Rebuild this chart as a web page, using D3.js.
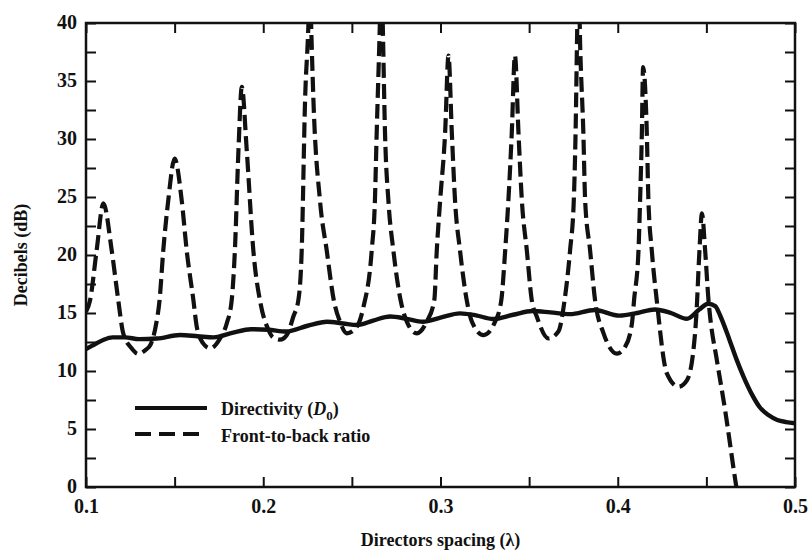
<!DOCTYPE html>
<html>
<head>
<meta charset="utf-8">
<script src="https://cdn.jsdelivr.net/npm/d3@7"></script>
<style>
  body { margin: 0; background: #fff; }
  svg { display: block; }
  text { font-family: "Liberation Serif", "DejaVu Serif", serif; fill: #111; }
</style>
</head>
<body>
<svg id="chart" width="810" height="552"></svg>
<script>
// values (x in wavelengths, y in dB)
const xTicks = [0.1, 0.2, 0.3, 0.4, 0.5]
const xMinor = [0.15, 0.25, 0.35, 0.45]
const yTicks = [0, 5, 10, 15, 20, 25, 30, 35, 40]
const yMinor = [2.5, 7.5, 12.5, 17.5, 22.5, 27.5, 32.5, 37.5]

const dirX = [0.100, 0.105, 0.110, 0.115, 0.122, 0.130, 0.140, 0.153, 0.163, 0.172,
  0.183, 0.193, 0.203, 0.213, 0.225, 0.236, 0.245, 0.253, 0.262, 0.2716,
  0.281, 0.290, 0.300, 0.311, 0.320, 0.3297, 0.341, 0.352, 0.362, 0.373,
  0.387, 0.401, 0.411, 0.421, 0.430, 0.439, 0.446, 0.451, 0.455, 0.458,
  0.463, 0.467, 0.471, 0.476, 0.480, 0.485, 0.490, 0.495, 0.500]
const dirY = [11.9, 12.3, 12.7, 12.9, 12.9, 12.75, 12.8, 13.1, 13.0, 12.9,
  13.3, 13.6, 13.55, 13.4, 13.9, 14.25, 14.1, 13.96, 14.35, 14.7,
  14.5, 14.25, 14.6, 14.97, 14.8, 14.48, 14.85, 15.17, 15.05, 14.9,
  15.26, 14.77, 15.0, 15.3, 15.0, 14.5, 15.3, 15.8, 15.6, 14.7,
  12.7, 11.0, 9.5, 7.9, 6.9, 6.2, 5.78, 5.6, 5.5]

const fbX = [0.100, 0.1023, 0.106, 0.1098, 0.1145, 0.1182, 0.121, 0.1255, 0.1295, 0.1335,
  0.1365, 0.1395, 0.1415, 0.1436, 0.1464, 0.150, 0.154, 0.1568, 0.1606, 0.1625,
  0.166, 0.170, 0.1756, 0.1794, 0.1822, 0.184, 0.186, 0.1879, 0.1907, 0.1944,
  0.1985, 0.2025, 0.2055, 0.2095, 0.2133, 0.217, 0.2198, 0.2217, 0.2236, 0.2255,
  0.2263, 0.227, 0.2283, 0.232, 0.2358, 0.2398, 0.2433, 0.2471, 0.2527, 0.2565,
  0.2612, 0.263, 0.264, 0.2658, 0.2666, 0.2674, 0.2687, 0.2706, 0.2734, 0.2775,
  0.281, 0.2866, 0.2922, 0.2965, 0.2979, 0.2998, 0.3026, 0.3045, 0.3064, 0.3082,
  0.311, 0.3148, 0.3177, 0.3243, 0.3308, 0.3343, 0.3365, 0.3383, 0.3402, 0.342,
  0.344, 0.3459, 0.3487, 0.3515, 0.3543, 0.3609, 0.3665, 0.370, 0.3731, 0.3752,
  0.3762, 0.3772, 0.3779, 0.3788, 0.3806, 0.3816, 0.3844, 0.3872, 0.392, 0.3995,
  0.4042, 0.408, 0.4092, 0.4117, 0.4126, 0.4136, 0.4143, 0.4164, 0.4173, 0.4192,
  0.422, 0.4277, 0.4343, 0.439, 0.4427, 0.4443, 0.4461, 0.4475, 0.4493, 0.4512,
  0.4521, 0.4559, 0.4606, 0.4663, 0.469]
const fbY = [15.1, 16.1, 20.4, 24.45, 20.4, 16.1, 13.25, 12.0, 11.47, 11.8,
  12.3, 14.0, 16.1, 20.4, 24.7, 28.3, 24.7, 20.4, 16.1, 13.8,
  12.4, 11.95, 12.8, 14.1, 16.1, 20.4, 29.0, 34.5, 29.0, 20.4,
  15.8, 13.7, 12.9, 12.7, 13.1, 14.7, 16.1, 20.4, 33.4, 40.0,
  44.5, 40.0, 33.4, 24.7, 20.4, 16.1, 14.25, 13.25, 13.8, 15.5,
  20.4, 24.7, 30.5, 40.0, 45.0, 40.0, 30.5, 24.7, 20.4, 16.1,
  14.25, 13.25, 14.25, 16.1, 20.4, 24.7, 30.5, 37.2, 30.5, 24.7,
  20.4, 16.1, 14.25, 13.1, 14.25, 16.1, 20.4, 24.7, 30.5, 37.2,
  30.5, 24.7, 20.4, 16.1, 14.7, 12.8, 13.4, 16.1, 20.4, 24.7,
  30.5, 40.0, 44.0, 38.0, 30.5, 24.7, 20.4, 16.1, 13.25, 11.5,
  12.1, 14.1, 16.1, 20.4, 24.7, 30.5, 36.2, 30.5, 24.7, 20.4,
  16.1, 9.8, 8.65, 9.2, 11.8, 14.7, 20.4, 23.6, 20.4, 16.1,
  14.7, 10.95, 6.6, 0.6, -2.0]

const legendNames = ["Directivity", "Front-to-back ratio"]

const width = 810, height = 552
const margin = {top: 23, right: 15, bottom: 65, left: 86}

const x = d3.scaleLinear().domain([0.1, 0.5]).range([margin.left, width - margin.right])
const y = d3.scaleLinear().domain([0, 40]).range([height - margin.bottom, margin.top])

const svg = d3.select("#chart")

svg.append("defs").append("clipPath").attr("id", "plotclip")
  .append("rect")
    .attr("x", x(0.1)).attr("y", y(40))
    .attr("width", x(0.5) - x(0.1)).attr("height", y(0) - y(40))

// ticks on all four sides, pointing inward
const tick = 10
function styleAxis(g) {
  g.select(".domain").remove()
  g.selectAll(".tick line").attr("stroke", "#111").attr("stroke-width", 2)
  g.selectAll(".tick text")
    .attr("font-size", 20).attr("font-weight", "bold").attr("fill", "#111")
}

svg.append("g")
  .attr("transform", `translate(0,${y(0)})`)
  .call(d3.axisBottom(x).tickValues(xTicks).tickSize(-tick).tickPadding(12).tickFormat(d3.format(".1f")))
  .call(styleAxis)
svg.append("g")
  .attr("transform", `translate(0,${y(0)})`)
  .call(d3.axisBottom(x).tickValues(xMinor).tickSize(-tick).tickFormat(""))
  .call(styleAxis)
svg.append("g")
  .attr("transform", `translate(0,${y(40)})`)
  .call(d3.axisTop(x).tickValues(xTicks.concat(xMinor)).tickSize(-tick).tickFormat(""))
  .call(styleAxis)

svg.append("g")
  .attr("transform", `translate(${x(0.1)},0)`)
  .call(d3.axisLeft(y).tickValues(yTicks).tickSize(-tick).tickPadding(9).tickFormat(d3.format("d")))
  .call(styleAxis)
  .call(g => g.selectAll(".tick text").attr("dy", "0.28em"))
svg.append("g")
  .attr("transform", `translate(${x(0.1)},0)`)
  .call(d3.axisLeft(y).tickValues(yMinor).tickSize(-tick).tickFormat(""))
  .call(styleAxis)
svg.append("g")
  .attr("transform", `translate(${x(0.5)},0)`)
  .call(d3.axisRight(y).tickValues(yTicks.concat(yMinor)).tickSize(-tick).tickFormat(""))
  .call(styleAxis)

// frame
svg.append("rect")
  .attr("x", x(0.1)).attr("y", y(40))
  .attr("width", x(0.5) - x(0.1)).attr("height", y(0) - y(40))
  .attr("fill", "none").attr("stroke", "#111").attr("stroke-width", 2.5)

const line = d3.line()
  .x(d => x(d[0]))
  .y(d => y(d[1]))
  .curve(d3.curveMonotoneX)

const plot = svg.append("g").attr("clip-path", "url(#plotclip)")

plot.append("path")
  .attr("d", line(fbX.map((v, i) => [v, fbY[i]])))
  .attr("fill", "none").attr("stroke", "#111").attr("stroke-width", 4.2)
  .attr("stroke-dasharray", "15,6")

plot.append("path")
  .attr("d", line(dirX.map((v, i) => [v, dirY[i]])))
  .attr("fill", "none").attr("stroke", "#111").attr("stroke-width", 4.4)

// legend
const lg = svg.append("g")
lg.append("line").attr("x1", 135).attr("x2", 207).attr("y1", 408).attr("y2", 408)
  .attr("stroke", "#111").attr("stroke-width", 4)
lg.append("line").attr("x1", 135).attr("x2", 207).attr("y1", 434).attr("y2", 434)
  .attr("stroke", "#111").attr("stroke-width", 4).attr("stroke-dasharray", "16,8")

const t1 = lg.append("text").attr("x", 221).attr("y", 415)
  .attr("font-size", 18).attr("font-weight", "bold")
t1.append("tspan").text(legendNames[0] + " (")
t1.append("tspan").attr("font-style", "italic").text("D")
t1.append("tspan").attr("font-size", 13).attr("dy", 5).text("0")
t1.append("tspan").attr("dy", -5).text(")")

lg.append("text").attr("x", 221).attr("y", 442)
  .attr("font-size", 18).attr("font-weight", "bold")
  .text(legendNames[1])

// axis titles
svg.append("text")
  .attr("x", (x(0.1) + x(0.5)) / 2).attr("y", 546)
  .attr("text-anchor", "middle")
  .attr("font-size", 18).attr("font-weight", "bold")
  .text("Directors spacing (λ)")

svg.append("text")
  .attr("transform", `translate(27,${(y(0) + y(40)) / 2}) rotate(-90)`)
  .attr("text-anchor", "middle")
  .attr("font-size", 18).attr("font-weight", "bold")
  .text("Decibels (dB)")
</script>
</body>
</html>
